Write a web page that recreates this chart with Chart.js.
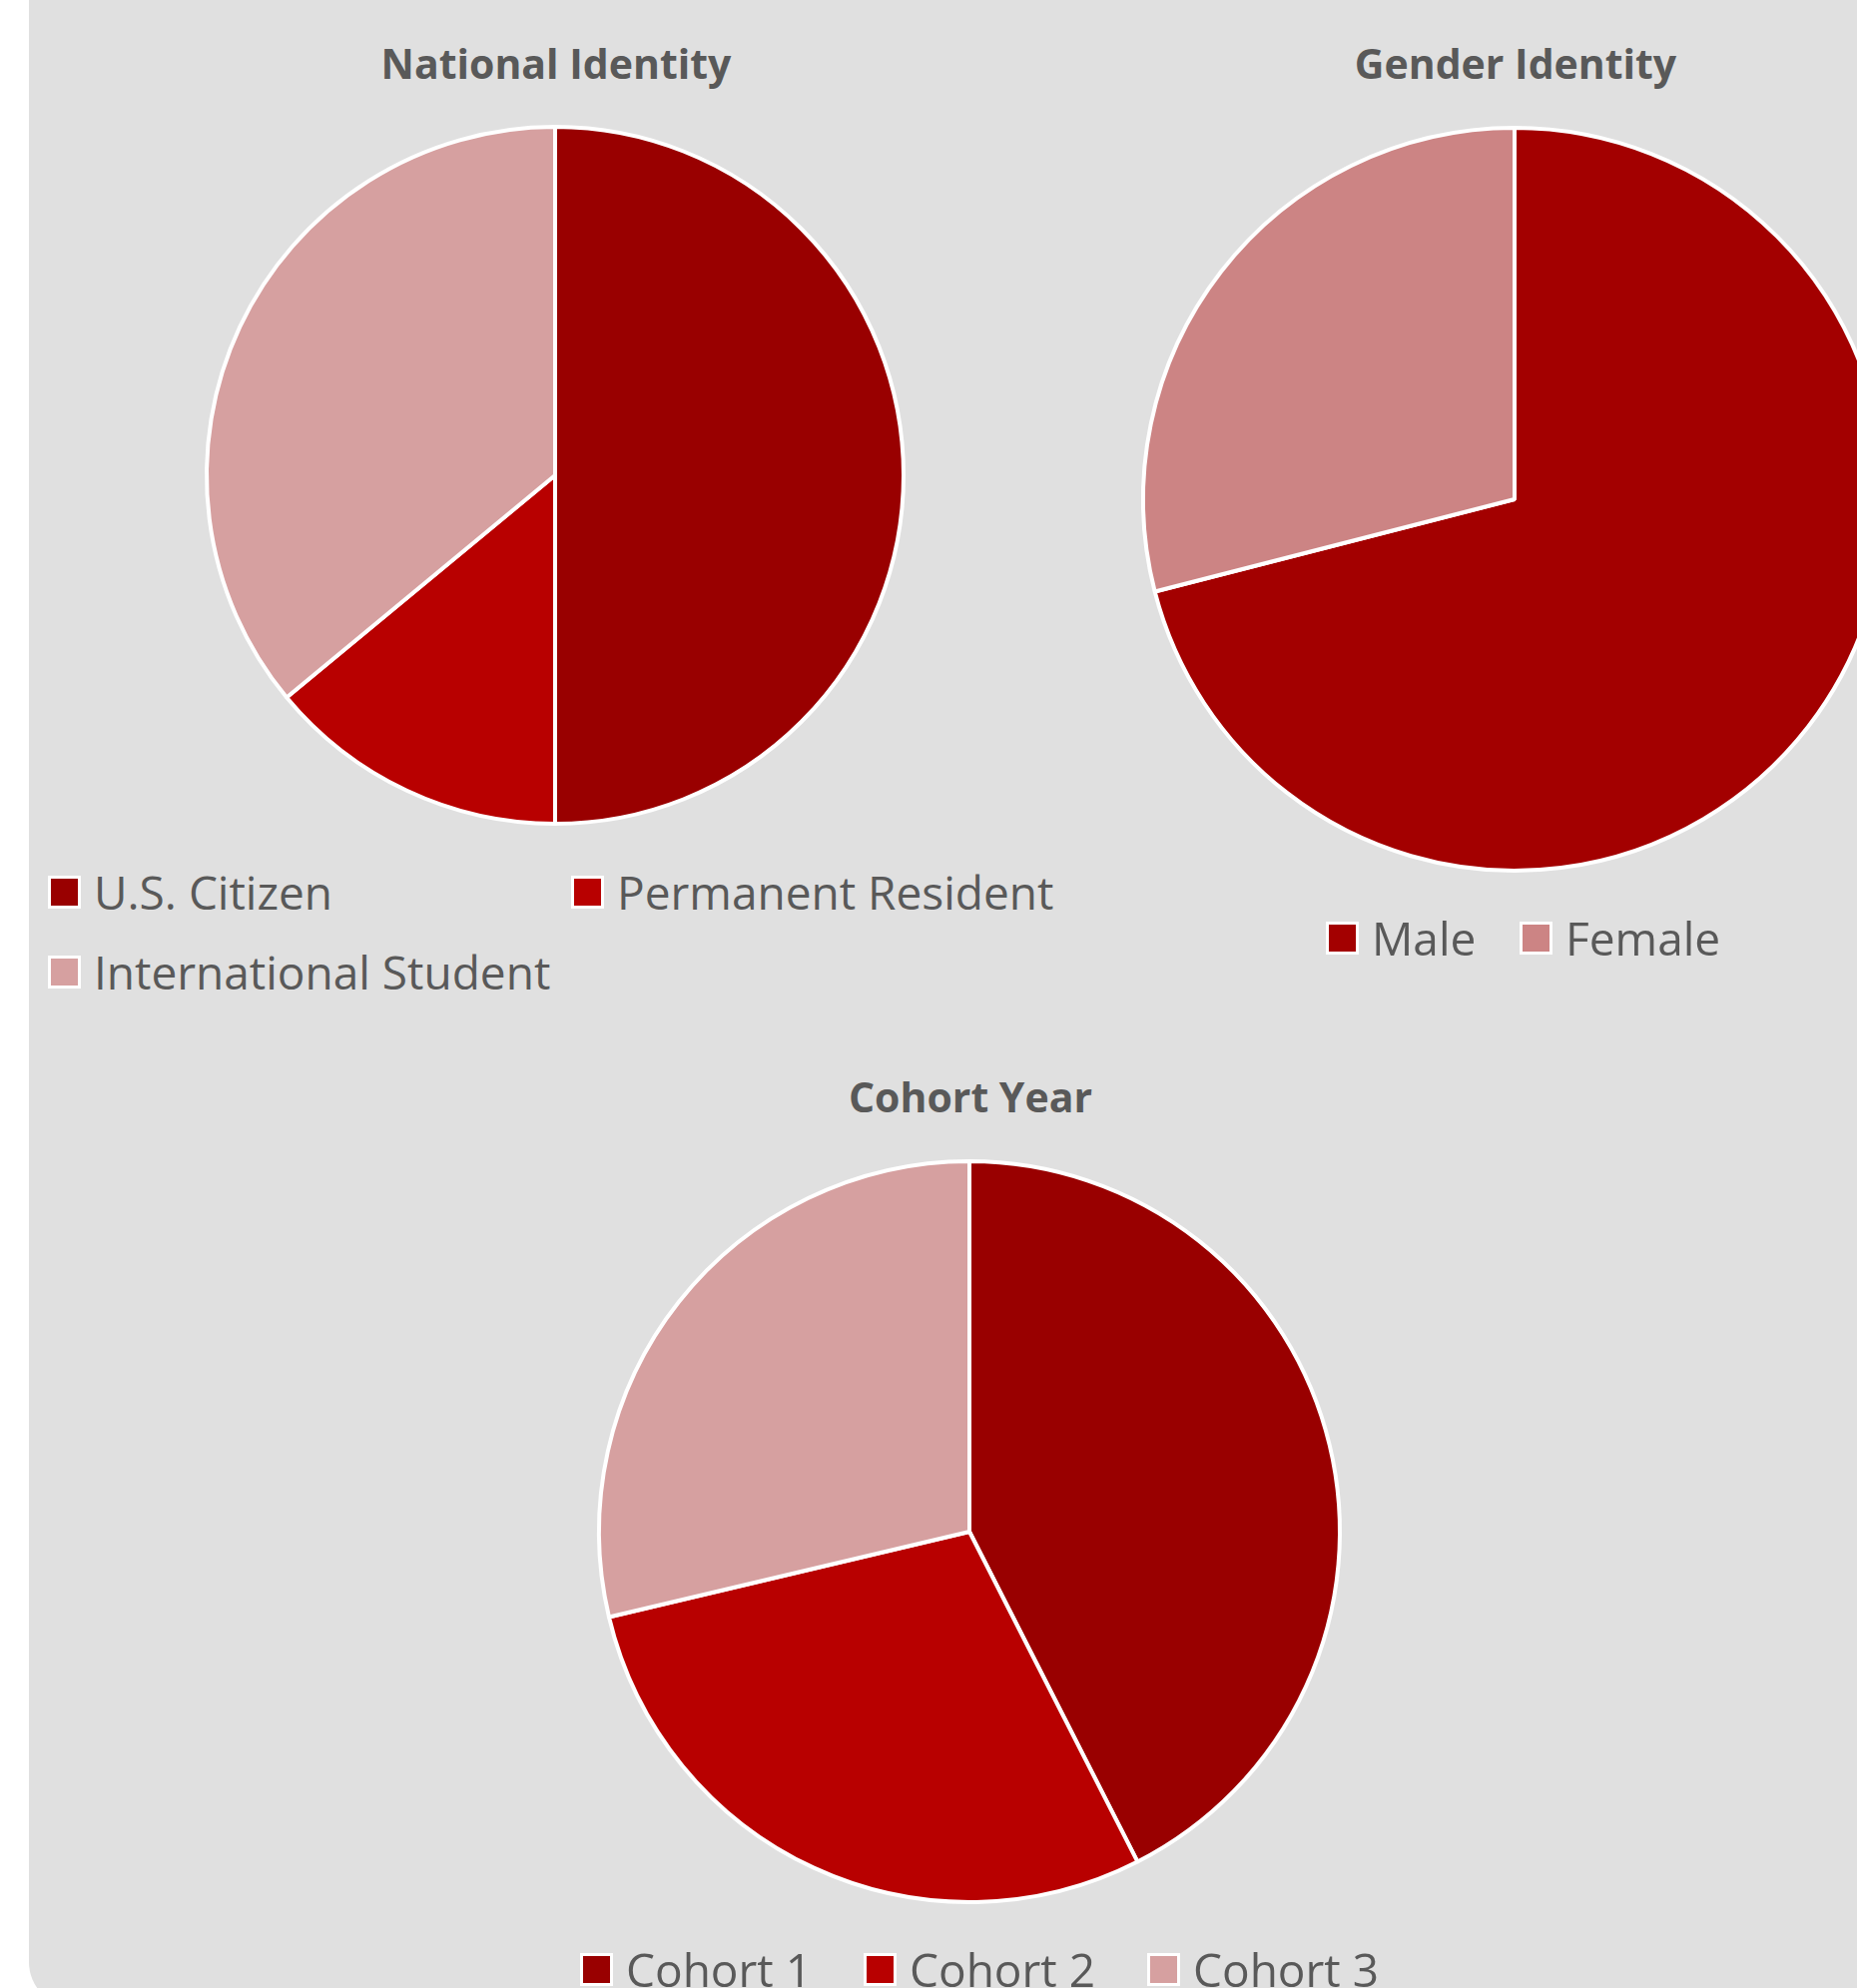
<!DOCTYPE html>
<html>
<head>
<meta charset="utf-8">
<script src="https://cdn.jsdelivr.net/npm/chart.js@4/dist/chart.umd.min.js"></script>
<style>
  body { margin: 0; background: #ffffff; }
  #page { position: relative; width: 1860px; height: 1991px; overflow: hidden; background: #ffffff; }
  #panel { position: absolute; left: 29px; top: -60px; width: 1900px; height: 2070px; background: #e0e0e0; border-bottom-left-radius: 45px; }
  canvas { position: absolute; }
  .title { position: absolute; width: 800px; text-align: center; font-family: "Open Sans", sans-serif; font-weight: bold; font-size: 41px; line-height: 1; color: #595959; }
  .legend { position: absolute; display: grid; font-family: "Open Sans", sans-serif; font-size: 46px; color: #595959; }
  .legend .item { display: flex; align-items: center; height: 80px; white-space: nowrap; }
  .legend .box { width: 27px; height: 27px; border: 3px solid #ffffff; margin-right: 13px; flex: none; }
  .legend .txt { line-height: 1; }
</style>
</head>
<body>
<div id="page">
  <div id="panel"></div>

  <div class="title" style="left:157px; top:43px;">National Identity</div>
  <canvas id="nationalPie" width="740" height="740" style="left:186px; top:106px;"></canvas>
  <div class="legend" id="nationalLegend" style="left:48px; top:853px; grid-template-columns: 524px 524px;"></div>

  <div class="title" style="left:1118px; top:43px;">Gender Identity</div>
  <canvas id="genderPie" width="800" height="800" style="left:1117px; top:100px;"></canvas>
  <div class="legend" id="genderLegend" style="left:1328px; top:899px; grid-template-columns: 194px 194px;"></div>

  <div class="title" style="left:572px; top:1078px;">Cohort Year</div>
  <canvas id="cohortPie" width="800" height="800" style="left:571px; top:1134px;"></canvas>
  <div class="legend" id="cohortLegend" style="left:581px; top:1932px; grid-template-columns: 284px 284px 284px;"></div>
</div>

<script>
/* --------------- Data --------------------- */
const nationalLabels = ["U.S. Citizen", "Permanent Resident", "International Student"];
const nationalValues = [50, 14, 36];

const genderLabels = ["Male", "Female"];
const genderValues = [71, 29];

const cohortLabels = ["Cohort 1", "Cohort 2", "Cohort 3"];
const cohortValues = [42.5, 28.8, 28.7];

/* --------------- Colors --------------------- */
const nationalColors = ["#990000", "#b80000", "#d6a0a0"];
const genderColors = ["#a30000", "#cc8484"];
const cohortColors = ["#990000", "#b80000", "#d6a0a0"];

/* --------------- Pie helper --------------------- */
const makePie = (canvasId, labels, values, colors, radius) => {
  return new Chart(document.getElementById(canvasId), {
    type: "pie",
    data: {
      labels: labels,
      datasets: [
        {
          data: values,
          backgroundColor: colors,
          borderColor: "#ffffff",
          borderWidth: 4,
          hoverOffset: 0,
        },
      ],
    },
    options: {
      responsive: false,
      animation: false,
      events: [],
      radius: radius,
      layout: { padding: 0 },
      plugins: {
        legend: { display: false },
        tooltip: { enabled: false },
        title: { display: false },
      },
    },
  });
};

/* --------------- Legend helper (Excel style grid) --------------------- */
const makeLegend = (legendId, labels, colors) => {
  const el = document.getElementById(legendId);
  labels.forEach((label, i) => {
    const item = document.createElement("div");
    item.className = "item";
    const box = document.createElement("span");
    box.className = "box";
    box.style.background = colors[i];
    const txt = document.createElement("span");
    txt.className = "txt";
    txt.textContent = label;
    item.appendChild(box);
    item.appendChild(txt);
    el.appendChild(item);
  });
};

makePie("nationalPie", nationalLabels, nationalValues, nationalColors, 349);
makePie("genderPie", genderLabels, genderValues, genderColors, 372);
makePie("cohortPie", cohortLabels, cohortValues, cohortColors, 371);

makeLegend("nationalLegend", nationalLabels, nationalColors);
makeLegend("genderLegend", genderLabels, genderColors);
makeLegend("cohortLegend", cohortLabels, cohortColors);
</script>
</body>
</html>
